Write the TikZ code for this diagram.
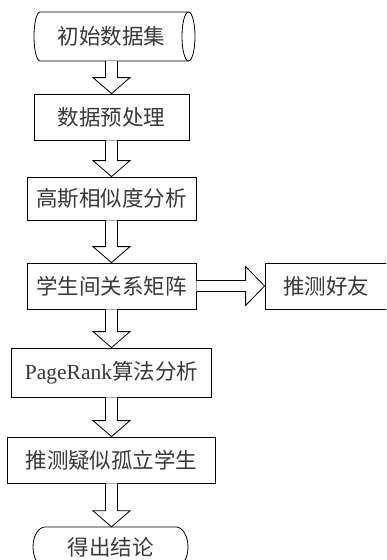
\documentclass[tikz,border=0pt]{standalone}
\usepackage{fontspec}
\setmainfont{Liberation Serif}
\newfontfamily\cjk{Noto Sans CJK SC}
\usetikzlibrary{calc}
\tikzset{
  lbl/.style={inner sep=0pt, text=black!78, font=\fontsize{21.5}{24}\selectfont},
  boxnode/.style={lbl, draw=black, line width=0.8pt},
  shapeline/.style={draw=black, line width=0.8pt},
  barrow/.style={draw=black, line width=0.8pt, fill=white, line join=miter},
}
\newcommand\vblock[2]{%
  \path[barrow] let \p1=(#1.south), \p2=(#2.north) in
    (\x1-6pt,\y1) -- (\x1-6pt,\y2+16pt) -- (\x1-18.5pt,\y2+16pt) -- (\x1,\y2)
    -- (\x1+18.5pt,\y2+16pt) -- (\x1+6pt,\y2+16pt) -- (\x1+6pt,\y1);}
\begin{document}
\begin{tikzpicture}[x=1pt,y=-1pt]
\path[use as bounding box] (0,0) rectangle (386,560);
\clip (0,0) rectangle (386,560);
% nodes
\node[lbl, minimum width=161pt, minimum height=49pt] (n1) at (111.5,36.5) {\cjk 初始数据集};
\draw[shapeline] (40,12) -- (188.5,12)
  arc[start angle=-90,end angle=90,x radius=6.5,y radius=24.5]
  -- (40,61) arc[start angle=90,end angle=270,x radius=6,y radius=24.5] -- cycle;
\draw[shapeline] (188.5,61) arc[start angle=90,end angle=270,x radius=6.5,y radius=24.5];
\node[boxnode, minimum width=155pt, minimum height=46pt] (n2) at (111.5,117) {\cjk 数据预处理};
\node[boxnode, minimum width=169pt, minimum height=43pt] (n3) at (111.5,198.5) {\cjk 高斯相似度分析};
\node[boxnode, minimum width=169pt, minimum height=46pt] (n4) at (111.5,286) {\cjk 学生间关系矩阵};
\node[boxnode, minimum width=122pt, minimum height=46pt] (n5) at (326,286) {\cjk 推测好友};
\node[boxnode, minimum width=200pt, minimum height=49pt] (n6) at (111.5,372.5) {PageRank{\cjk 算法分析}};
\node[boxnode, minimum width=208pt, minimum height=46pt] (n7) at (111.5,460) {\cjk 推测疑似孤立学生};
\node[lbl, minimum width=155pt, minimum height=40pt] (n8) at (110.5,547) {\cjk 得出结论};
\draw[shapeline] (45,527) -- (176,527)
  arc[start angle=-90,end angle=90,x radius=12,y radius=20]
  -- (45,567) arc[start angle=90,end angle=270,x radius=12,y radius=20] -- cycle;
% block arrows
\vblock{n1}{n2}
\vblock{n2}{n3}
\vblock{n3}{n4}
\vblock{n4}{n6}
\vblock{n6}{n7}
\vblock{n7}{n8}
\path[barrow] let \p1=(n4.east), \p2=(n5.west) in
  (\x1,\y1-5.5pt) -- (\x2-19pt,\y1-5.5pt) -- (\x2-19pt,\y1-19.5pt) -- (\x2,\y1)
  -- (\x2-19pt,\y1+19.5pt) -- (\x2-19pt,\y1+5.5pt) -- (\x1,\y1+5.5pt);
\end{tikzpicture}
\end{document}
